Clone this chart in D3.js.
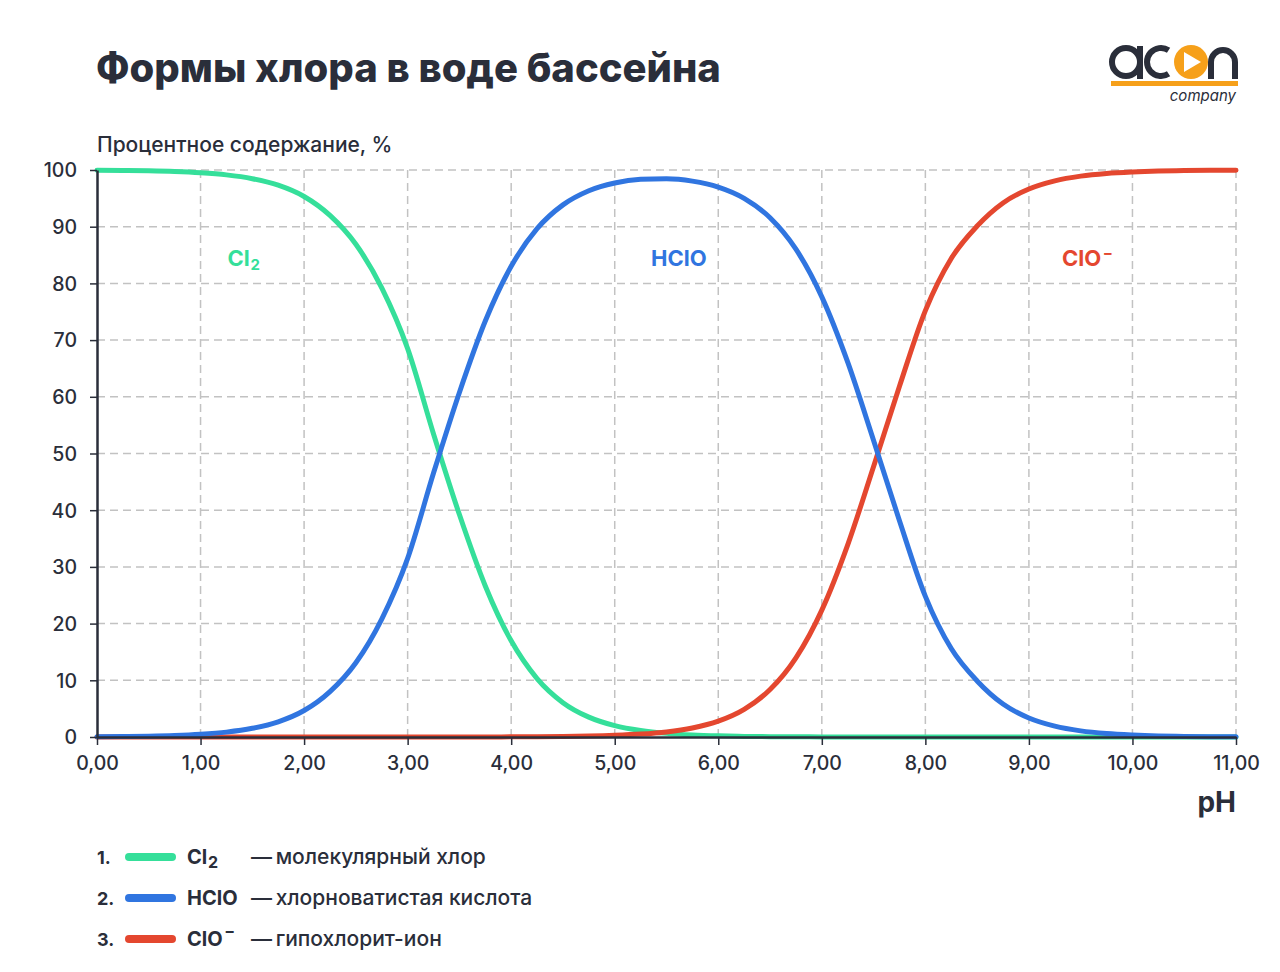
<!DOCTYPE html>
<html>
<head>
<meta charset="utf-8">
<script src="https://cdn.jsdelivr.net/npm/d3@7"></script>
<style>
  html, body { margin: 0; padding: 0; background: #fff; }
  svg { display: block; font-family: Inter, "Noto Sans", sans-serif; }
</style>
</head>
<body>
<div id="chart"></div>
<script>
// pH points and percent of each chlorine form
let phValues = [0, 0.25, 0.5, 0.75, 1, 1.25, 1.5, 1.75, 2, 2.25, 2.5, 2.75, 3, 3.25, 3.5, 3.75,
    4, 4.25, 4.5, 4.75, 5, 5.25, 5.5, 5.75, 6, 6.25, 6.5, 6.75, 7, 7.25, 7.5, 7.75,
    8, 8.25, 8.5, 8.75, 9, 9.25, 9.5, 9.75, 10, 10.25, 10.5, 10.75, 11];

let cl2Values = [99.95, 99.91, 99.85, 99.73, 99.51, 99.14, 98.47, 97.32, 95.33, 91.99, 86.9, 79.2, 68.5, 53.45, 39.23, 26.64,
    16.96, 10.3, 6.06, 3.5, 2.0, 1.14, 0.64, 0.36, 0.2, 0.11, 0.06, 0.03, 0.02, 0.01, 0, 0,
    0, 0, 0, 0, 0, 0, 0, 0, 0, 0, 0, 0, 0];

let hcloValues = [0.05, 0.09, 0.15, 0.27, 0.49, 0.86, 1.53, 2.68, 4.67, 8.01, 13.1, 20.8, 31.5, 46.55, 60.77, 73.36,
    83.01, 89.65, 93.85, 96.34, 97.71, 98.35, 98.46, 98.04, 97.0, 95.01, 91.58, 86.04, 77.62, 66.1, 52.3, 38.14,
    24.8, 15.6, 9.88, 5.81, 3.35, 1.91, 1.08, 0.61, 0.35, 0.19, 0.11, 0.06, 0.03];

let cloValues = [0, 0, 0, 0, 0, 0, 0, 0, 0, 0, 0, 0, 0, 0, 0, 0,
    0.03, 0.05, 0.09, 0.16, 0.29, 0.51, 0.9, 1.6, 2.8, 4.88, 8.36, 13.96, 22.38, 33.9, 47.7, 61.86,
    75.2, 84.4, 90.12, 94.19, 96.65, 98.09, 98.92, 99.39, 99.65, 99.81, 99.89, 99.94, 99.97];

let xTicks = [0, 1, 2, 3, 4, 5, 6, 7, 8, 9, 10, 11];
let yTicks = [0, 10, 20, 30, 40, 50, 60, 70, 80, 90, 100];

let seriesNames = ["Cl2", "HClO", "ClO-"];
let legendText = ["молекулярный хлор", "хлорноватистая кислота", "гипохлорит-ион"];

let ink = "#2a2e3a";
let color = d3.scaleOrdinal()
    .domain(seriesNames)
    .range(["#35df9a", "#3075e0", "#e4472f"]);

let width = 1280, height = 972;

let svg = d3.select("#chart")
    .append("svg")
    .attr("width", width)
    .attr("height", height);

let x = d3.scaleLinear().domain([0, 11]).range([97, 1236]);
let y = d3.scaleLinear().domain([0, 100]).range([737, 170]);

// title
svg.append("text")
    .attr("x", 96)
    .attr("y", 82)
    .text("Формы хлора в воде бассейна")
    .attr("font-size", "40px")
    .attr("font-weight", 800)
    .attr("fill", ink);

// logo
let logo = svg.append("g").attr("stroke", ink).attr("stroke-width", 6).attr("fill", "none");
logo.append("circle").attr("cx", 1126).attr("cy", 62).attr("r", 14);
logo.append("line").attr("x1", 1140).attr("x2", 1140).attr("y1", 46).attr("y2", 79);
logo.append("path").attr("d", d3.arc()({ innerRadius: 14, outerRadius: 14, startAngle: 1.0, endAngle: 2 * Math.PI - 1.0 }))
    .attr("transform", "translate(1161,62) rotate(90)");
logo.append("path").attr("d", "M1211,79 V62 A12,12 0 0 1 1235,62 V79");
svg.append("circle").attr("cx", 1191).attr("cy", 62).attr("r", 17).attr("fill", "#f6a01a");
svg.append("path").attr("d", "M1184,52 L1184,72 L1201,62 Z").attr("fill", "#fff");
svg.append("rect").attr("x", 1111).attr("y", 81).attr("width", 127).attr("height", 5).attr("fill", "#f6a01a");
svg.append("text")
    .attr("x", 1236).attr("y", 101)
    .attr("text-anchor", "end")
    .attr("font-size", "15px")
    .attr("font-style", "italic")
    .attr("fill", ink)
    .text("company");

// y axis title
svg.append("text")
    .attr("x", 97)
    .attr("y", 152)
    .text("Процентное содержание, %")
    .attr("font-size", "21px")
    .attr("font-weight", 500)
    .attr("fill", ink);

// grid
let grid = svg.append("g")
    .attr("stroke", "#c2c2c2")
    .attr("stroke-width", 1.5)
    .attr("stroke-dasharray", "8,5");
grid.selectAll("line.v")
    .data(xTicks.filter(function (d) { return d > 0; }))
    .enter()
    .append("line")
    .attr("x1", function (d) { return x(d); })
    .attr("x2", function (d) { return x(d); })
    .attr("y1", y(100))
    .attr("y2", y(0));
grid.selectAll("line.h")
    .data(yTicks.filter(function (d) { return d > 0; }))
    .enter()
    .append("line")
    .attr("x1", x(0))
    .attr("x2", x(11))
    .attr("y1", function (d) { return y(d); })
    .attr("y2", function (d) { return y(d); });

// curves
let line = d3.line()
    .x(function (d) { return x(d[0]); })
    .y(function (d) { return y(d[1]); })
    .curve(d3.curveMonotoneX);

let series = [cl2Values, cloValues, hcloValues];
let seriesKey = ["Cl2", "ClO-", "HClO"];
series.forEach(function (vals, i) {
    svg.append("path")
        .datum(phValues.map(function (p, j) { return [p, vals[j]]; }))
        .attr("d", line)
        .attr("fill", "none")
        .attr("stroke", color(seriesKey[i]))
        .attr("stroke-width", 5)
        .attr("stroke-linecap", "round");
});

// axes
let xAxis = svg.append("g")
    .attr("transform", "translate(0," + y(0) + ")")
    .call(d3.axisBottom(x)
        .tickValues(xTicks)
        .tickSize(8)
        .tickSizeOuter(0)
        .tickPadding(11)
        .tickFormat(function (d) { return d3.format(".2f")(d).replace(".", ","); }));

let yAxis = svg.append("g")
    .attr("transform", "translate(" + x(0) + ",0)")
    .call(d3.axisLeft(y)
        .tickValues(yTicks)
        .tickSize(7)
        .tickSizeOuter(0)
        .tickPadding(13));

[xAxis, yAxis].forEach(function (a) {
    a.select(".domain").attr("stroke", ink).attr("stroke-width", 2.5);
    a.selectAll(".tick line").attr("stroke", ink).attr("stroke-width", 1.5);
    a.selectAll(".tick text")
        .attr("fill", ink)
        .attr("font-size", "19.5px")
        .attr("font-family", "Inter, sans-serif")
        .attr("font-weight", 500);
});
yAxis.selectAll(".tick text").attr("dy", "0.35em");

svg.append("text")
    .attr("x", 1236)
    .attr("y", 812)
    .attr("text-anchor", "end")
    .attr("font-size", "28px")
    .attr("font-weight", 700)
    .attr("fill", ink)
    .text("pH");

// formula helper: Cl₂, HClO, ClO⁻ with sub/superscript
function formula(sel, name, small) {
    if (name === "Cl2") {
        sel.append("tspan").text("Cl");
        sel.append("tspan").attr("font-size", small).attr("dy", "0.25em").attr("dx", "0.05em").text("2");
    } else if (name === "ClO-") {
        sel.append("tspan").text("ClO");
        sel.append("tspan").attr("font-size", small).attr("dy", "-0.55em").attr("dx", "0.1em").text("\u2212");
    } else {
        sel.append("tspan").text("HClO");
    }
}

// labels on the curves
let curveLabels = [
    { name: "Cl2", ph: 1.26, val: 83.1 },
    { name: "HClO", ph: 5.35, val: 83.1 },
    { name: "ClO-", ph: 9.32, val: 83.1 }
];
curveLabels.forEach(function (d) {
    let t = svg.append("text")
        .attr("x", x(d.ph))
        .attr("y", y(d.val))
        .attr("font-size", "22px")
        .attr("font-weight", 700)
        .attr("fill", color(d.name));
    formula(t, d.name, "15px");
});

// legend
let legend = svg.selectAll("g.legend")
    .data(seriesNames)
    .enter()
    .append("g")
    .attr("transform", function (d, i) { return "translate(0," + (857 + i * 41) + ")"; });

legend.append("text")
    .attr("x", 97).attr("y", 7)
    .attr("font-size", "18px").attr("font-weight", 700).attr("fill", ink)
    .text(function (d, i) { return (i + 1) + "."; });
legend.append("line")
    .attr("x1", 129).attr("x2", 172)
    .attr("y1", 0).attr("y2", 0)
    .attr("stroke", function (d) { return color(d); })
    .attr("stroke-width", 8)
    .attr("stroke-linecap", "round");
legend.append("text")
    .attr("x", 187).attr("y", 7)
    .attr("font-size", "20px").attr("font-weight", 700).attr("fill", ink)
    .each(function (d) { formula(d3.select(this), d, "16px"); });
legend.append("text")
    .attr("x", 251).attr("y", 7)
    .attr("font-size", "21px").attr("font-weight", 500).attr("fill", ink)
    .text(function (d, i) { return "\u2014" + "\u2009" + legendText[i]; });
</script>
</body>
</html>
